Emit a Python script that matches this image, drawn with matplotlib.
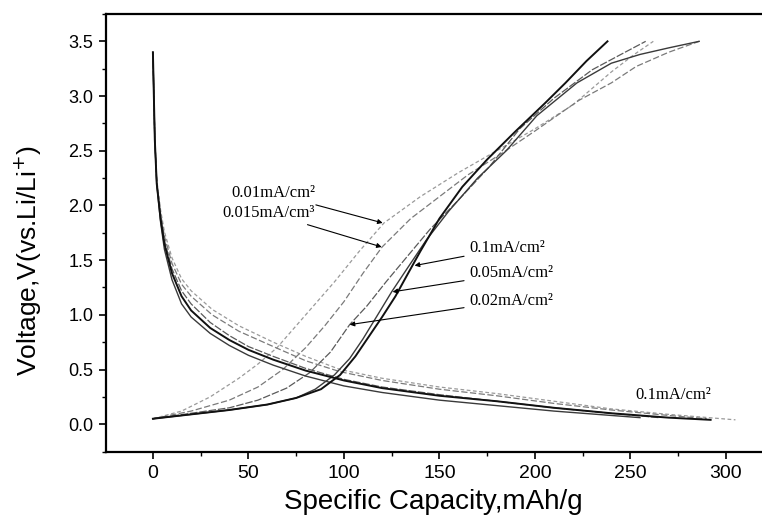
import matplotlib
matplotlib.use('Agg')
import matplotlib.pyplot as plt
from matplotlib.ticker import MultipleLocator

# charge curves (capacity mAh/g, voltage V)
cap_c_01 = [0, 20, 40, 60, 75, 88, 98, 106, 113, 120, 127, 133, 140, 150, 162, 175, 190, 205, 216, 227, 238]
v_c_01 = [0.05, 0.09, 0.13, 0.18, 0.24, 0.32, 0.45, 0.62, 0.80, 0.98, 1.17, 1.36, 1.58, 1.88, 2.17, 2.42, 2.68, 2.93, 3.12, 3.32, 3.50]
cap_c_005 = [0, 20, 40, 60, 75, 85, 95, 103, 110, 117, 125, 133, 143, 155, 170, 185, 201, 222, 240, 255, 270, 286]
v_c_005 = [0.05, 0.09, 0.13, 0.18, 0.24, 0.32, 0.45, 0.60, 0.78, 0.98, 1.21, 1.42, 1.68, 1.95, 2.25, 2.50, 2.82, 3.12, 3.30, 3.38, 3.44, 3.50]
cap_c_002 = [0, 20, 40, 55, 70, 82, 93, 103, 112, 122, 133, 145, 160, 176, 192, 210, 230, 245, 258]
v_c_002 = [0.05, 0.10, 0.15, 0.22, 0.33, 0.47, 0.66, 0.91, 1.08, 1.30, 1.53, 1.78, 2.05, 2.35, 2.70, 2.98, 3.24, 3.38, 3.50]
cap_c_0015 = [0, 20, 40, 55, 68, 80, 90, 100, 110, 120, 135, 150, 165, 183, 200, 223, 240, 253, 270, 286]
v_c_0015 = [0.05, 0.12, 0.22, 0.34, 0.50, 0.70, 0.90, 1.12, 1.38, 1.62, 1.88, 2.08, 2.28, 2.48, 2.68, 2.96, 3.12, 3.27, 3.40, 3.50]
cap_c_001 = [0, 15, 30, 45, 55, 65, 80, 95, 108, 121, 140, 160, 180, 200, 220, 240, 252, 262]
v_c_001 = [0.05, 0.12, 0.25, 0.42, 0.55, 0.70, 1.00, 1.30, 1.58, 1.84, 2.08, 2.30, 2.50, 2.70, 2.92, 3.22, 3.38, 3.50]

# discharge curves
cap_d_01 = [0, 0.5, 1, 2, 4, 6, 10, 15, 20, 30, 40, 50, 63, 80, 100, 120, 150, 180, 210, 240, 270, 292]
v_d_01 = [3.40, 3.00, 2.60, 2.20, 1.88, 1.65, 1.38, 1.17, 1.04, 0.88, 0.77, 0.68, 0.59, 0.49, 0.40, 0.33, 0.26, 0.21, 0.15, 0.10, 0.06, 0.04]
cap_d_005 = [0, 0.5, 1, 2, 4, 6, 10, 15, 20, 30, 40, 50, 63, 80, 100, 120, 150, 180, 210, 240, 255]
v_d_005 = [3.40, 3.00, 2.60, 2.20, 1.85, 1.60, 1.32, 1.10, 0.98, 0.83, 0.72, 0.63, 0.54, 0.44, 0.35, 0.29, 0.22, 0.17, 0.12, 0.08, 0.06]
cap_d_002 = [0, 0.5, 1, 2, 4, 6, 10, 15, 20, 30, 40, 50, 63, 80, 100, 120, 150, 180, 210, 240, 265]
v_d_002 = [3.40, 3.00, 2.60, 2.20, 1.90, 1.68, 1.42, 1.22, 1.10, 0.93, 0.81, 0.71, 0.62, 0.51, 0.41, 0.34, 0.27, 0.21, 0.15, 0.10, 0.06]
cap_d_0015 = [0, 0.5, 1, 2, 4, 6, 10, 15, 20, 31, 45, 63, 80, 98, 120, 150, 180, 210, 240, 270, 290]
v_d_0015 = [3.40, 3.00, 2.60, 2.22, 1.93, 1.72, 1.47, 1.28, 1.17, 1.00, 0.85, 0.71, 0.58, 0.48, 0.40, 0.32, 0.26, 0.19, 0.13, 0.08, 0.05]
cap_d_001 = [0, 0.5, 1, 2, 4, 6, 10, 15, 20, 31, 45, 63, 80, 98, 120, 150, 180, 210, 240, 270, 305]
v_d_001 = [3.40, 3.00, 2.60, 2.24, 1.96, 1.76, 1.52, 1.33, 1.22, 1.05, 0.90, 0.75, 0.62, 0.50, 0.42, 0.34, 0.28, 0.21, 0.14, 0.09, 0.04]

plt.rcParams['font.family'] = ['Liberation Sans', 'DejaVu Sans']

fig, ax = plt.subplots(figsize=(7.62, 5.18), dpi=100)
fig.subplots_adjust(left=0.139, right=0.999, bottom=0.127, top=0.973)

ax.plot(cap_c_001, v_c_001, color='#9a9a9a', lw=0.9, ls=(0, (3, 2)))
ax.plot(cap_d_001, v_d_001, color='#9a9a9a', lw=0.9, ls=(0, (3, 2)))
ax.plot(cap_c_0015, v_c_0015, color='#7a7a7a', lw=0.9, ls=(0, (5, 2)))
ax.plot(cap_d_0015, v_d_0015, color='#7a7a7a', lw=0.9, ls=(0, (5, 2)))
ax.plot(cap_c_002, v_c_002, color='#5a5a5a', lw=0.9, ls=(0, (6, 1.5)))
ax.plot(cap_d_002, v_d_002, color='#5a5a5a', lw=0.9, ls=(0, (6, 1.5)))
ax.plot(cap_c_005, v_c_005, color='#3a3a3a', lw=1.0, ls='-')
ax.plot(cap_d_005, v_d_005, color='#3a3a3a', lw=1.0, ls='-')
ax.plot(cap_c_01, v_c_01, color='#111111', lw=1.4, ls='-')
ax.plot(cap_d_01, v_d_01, color='#111111', lw=1.4, ls='-')

ax.set_xlim(-24.6, 318.5)
ax.set_ylim(-0.256, 3.75)
ax.xaxis.set_major_locator(MultipleLocator(50))
ax.xaxis.set_minor_locator(MultipleLocator(25))
ax.yaxis.set_major_locator(MultipleLocator(0.5))
ax.yaxis.set_minor_locator(MultipleLocator(0.25))
ax.tick_params(which='major', direction='out', length=5, width=1.2)
ax.tick_params(axis='x', which='major', labelsize=14, pad=4)
ax.tick_params(axis='y', which='major', labelsize=13, pad=4)
ax.tick_params(which='minor', direction='out', length=3, width=1.0)
ax.yaxis.set_major_formatter(plt.FormatStrFormatter('%.1f'))
for s in ['left', 'bottom', 'top']:
    ax.spines[s].set_linewidth(1.6)
ax.spines['right'].set_visible(False)

ax.set_xlabel('Specific Capacity,mAh/g', fontsize=20, labelpad=5)
ax.set_ylabel('Voltage,V(vs.Li/Li$^{+}$)', fontsize=19)
ax.yaxis.set_label_coords(-0.095, 0.438)

serif = ['Liberation Serif', 'DejaVu Serif']
arr = dict(arrowstyle='-|>', color='black', lw=0.8, mutation_scale=7, shrinkA=2, shrinkB=0)
ax.annotate('0.01mA/cm²', xy=(120.3, 1.84), xytext=(85, 2.11), ha='right', va='center',
            fontsize=12, family=serif, arrowprops=arr)
ax.annotate('0.015mA/cm³', xy=(119.8, 1.62), xytext=(85, 1.93), ha='right', va='center',
            fontsize=12, family=serif, arrowprops=arr)
ax.annotate('0.1mA/cm²', xy=(137, 1.45), xytext=(165.8, 1.61), ha='left', va='center',
            fontsize=12, family=serif, arrowprops=arr)
ax.annotate('0.05mA/cm²', xy=(125.5, 1.21), xytext=(165.8, 1.38), ha='left', va='center',
            fontsize=12, family=serif, arrowprops=arr)
ax.annotate('0.02mA/cm²', xy=(103, 0.91), xytext=(165.8, 1.13), ha='left', va='center',
            fontsize=12, family=serif, arrowprops=arr)
ax.text(272.5, 0.265, '0.1mA/cm²', ha='center', va='center', fontsize=12, family=serif)

fig.savefig('out.png', dpi=100)
